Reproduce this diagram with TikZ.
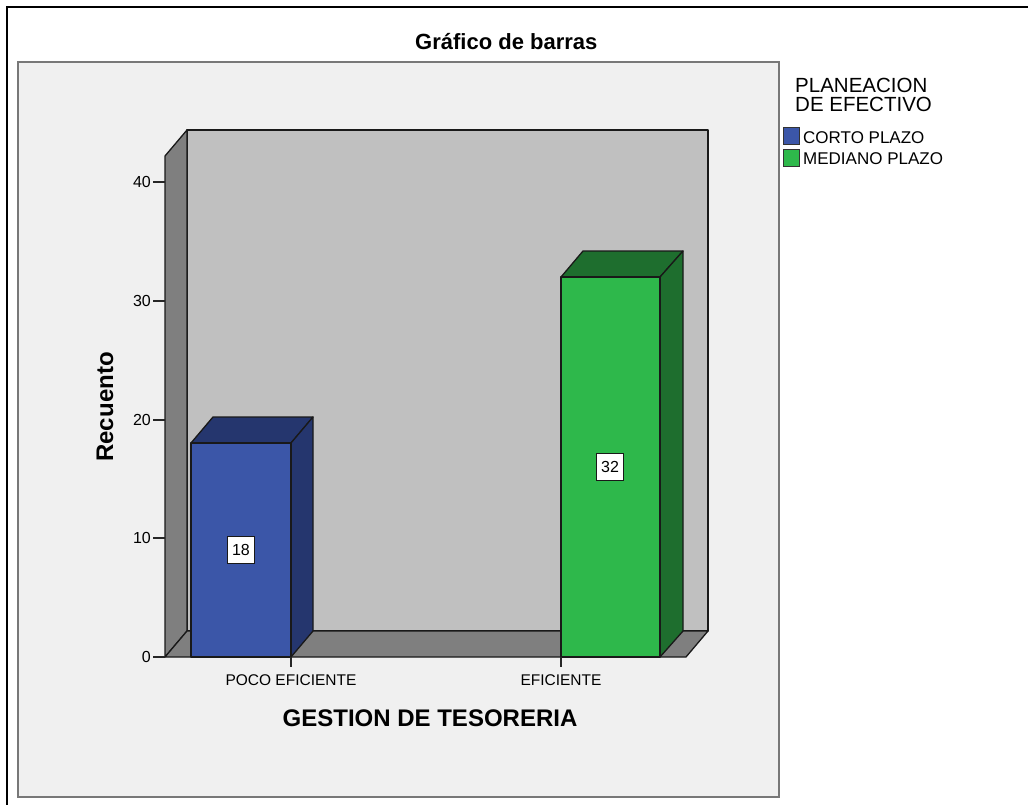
\documentclass[tikz,border=0pt]{standalone}
\usepackage{fontspec}
\setmainfont{Liberation Sans}
\begin{document}
\begin{tikzpicture}[x=1pt,y=-1pt,
  edge/.style={draw=black!90,line width=1.3pt,line join=round},
  wallback/.style={edge,fill=wallbg},
  walldark/.style={edge,fill=walldk},
  tickline/.style={draw=black!85,line width=1.3pt},
  ticklab/.style={anchor=east,inner sep=0pt,font=\fontsize{16}{19}\selectfont},
  catlab/.style={anchor=base,inner sep=0pt,font=\fontsize{15.5}{18}\selectfont},
  valbox/.style={draw=black!90,line width=0.9pt,fill=white,minimum width=27pt,minimum height=27pt,inner sep=0pt,font=\fontsize{16}{19}\selectfont},
  legtxt/.style={anchor=base west,inner sep=0pt,font=\fontsize{17}{20}\selectfont},
  legtitle/.style={anchor=base west,inner sep=0pt,font=\fontsize{20.5}{24}\selectfont},
  legsq/.style={draw=black!80,line width=1pt}
]
\definecolor{panelbg}{RGB}{240,240,240}
\definecolor{panelbd}{RGB}{120,120,120}
\definecolor{wallbg}{RGB}{192,192,192}
\definecolor{walldk}{RGB}{127,127,127}
\definecolor{bluefr}{RGB}{59,86,168}
\definecolor{bluedk}{RGB}{37,54,110}
\definecolor{greenfr}{RGB}{46,184,75}
\definecolor{greendk}{RGB}{30,110,46}

\useasboundingbox (0,0) rectangle (1028,805);
\fill[white] (0,0) rectangle (1028,805);
% outer frame (top and left visible)
\draw[black,line width=2pt] (7,805) -- (7,7) -- (1028,7);
% panel
\draw[fill=panelbg,draw=panelbd,line width=2pt] (18,62) rectangle (779,797);

% title
\node[anchor=base west,inner sep=0pt,font=\fontsize{22}{26}\bfseries] (title) at (415,50) {Gráfico de barras};

% 3D frame
\draw[wallback] (187,130) rectangle (708,631);
\draw[walldark] (187,130) -- (165,156) -- (165,657) -- (187,631) -- cycle;
\draw[walldark] (165,657) -- (187,631) -- (708,631) -- (686,657) -- cycle;

% blue bar (POCO EFICIENTE, 18)
\draw[edge,fill=bluedk] (191,443) -- (213,417) -- (313,417) -- (291,443) -- cycle;
\draw[edge,fill=bluedk] (291,443) -- (313,417) -- (313,631) -- (291,657) -- cycle;
\draw[edge,fill=bluefr] (191,443) rectangle (291,657);

% green bar (EFICIENTE, 32)
\draw[edge,fill=greendk] (561,277) -- (583,251) -- (683,251) -- (660,277) -- cycle;
\draw[edge,fill=greendk] (660,277) -- (683,251) -- (683,631) -- (660,657) -- cycle;
\draw[edge,fill=greenfr] (561,277) rectangle (660,657);

% value labels
\node[valbox] (v18) at (241,550) {18};
\node[valbox] (v32) at (610,467) {32};

% y ticks
\foreach \v/\yy in {0/657,10/538,20/420,30/301,40/182}{
  \draw[tickline] (153,\yy) -- (165,\yy);
  \node[ticklab] (yt\v) at (151,\yy) {\v};
}
% x ticks
\draw[tickline] (291,657) -- (291,667);
\draw[tickline] (561,657) -- (561,667);
\node[catlab] (c1) at (291,685) {POCO EFICIENTE};
\node[catlab] (c2) at (561,685) {EFICIENTE};

% axis titles
\node[anchor=base,inner sep=0pt,font=\fontsize{24}{28}\bfseries] (xt) at (430,726) {GESTION DE TESORERIA};
\node[anchor=base,inner sep=0pt,rotate=90,font=\fontsize{24}{28}\bfseries] (yt) at (113,407) {Recuento};

% legend
\node[legtitle] (lt1) at (795,93) {PLANEACION};
\node[legtitle] (lt2) at (795,112) {DE EFECTIVO};
\draw[legsq,fill=bluefr] (783,128) rectangle (799,145);
\draw[legsq,fill=greenfr] (783,150) rectangle (799,167);
\node[legtxt] (l1) at (803,144) {CORTO PLAZO};
\node[legtxt] (l2) at (803,165) {MEDIANO PLAZO};
\end{tikzpicture}
\end{document}
